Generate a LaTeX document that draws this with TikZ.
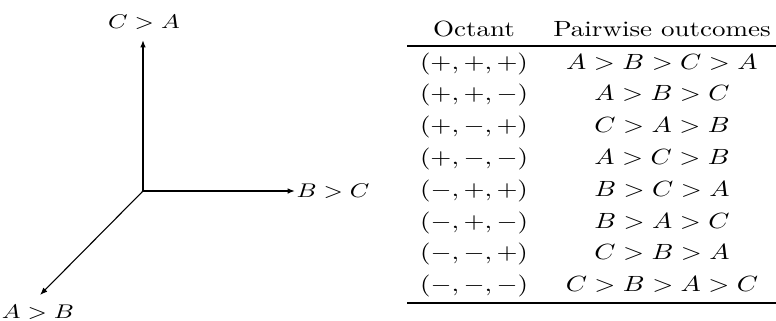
\documentclass[tikz,border=0pt]{standalone}
\usetikzlibrary{arrows.meta}
\newcommand{\wx}[1]{\scalebox{1.227}[1]{#1}}
\begin{document}
\begin{tikzpicture}[x=0.4545pt,y=-0.4545pt,
  cell/.style={inner sep=0pt, anchor=base, font=\fontsize{10}{12}\selectfont},
  axlabel/.style={inner sep=0pt, anchor=base, font=\fontsize{8.6}{10}\selectfont},
  axisline/.style={line width=1.2pt, -{Latex[length=3.4pt,width=2.6pt]}},
  diagline/.style={line width=0.5pt, -{Latex[length=3.4pt,width=2.6pt]}},
  tabrule/.style={line width=1pt}]
\useasboundingbox (0,0) rectangle (776,320);
% axes
\coordinate (O) at (143,191);
\coordinate (tipC) at (143,40);
\coordinate (tipB) at (295,191);
\coordinate (tipA) at (40,295);
\draw[axisline] (O) -- (tipC);
\draw[axisline] (O) -- (tipB);
\draw[diagline] (O) -- (tipA);
\node[axlabel] (ca) at (144,28) {\wx{$C>A$}};
\node[axlabel] (bc) at (333,197) {\wx{$B>C$}};
\node[axlabel] (ab) at (38,318) {\wx{$A>B$}};
% table
\node[cell] (h1) at (474,36) {\wx{Octant}};
\node[cell] (h2) at (662,36) {\wx{Pairwise outcomes}};
\coordinate (tl) at (407,46);
\coordinate (tr) at (776,46);
\coordinate (bl) at (407,303);
\coordinate (br) at (776,303);
\draw[tabrule] (tl) -- (tr);
\draw[tabrule] (bl) -- (br);
\foreach \k/\oc/\po in {
  0/{(+,+,+)}/{A>B>C>A},
  1/{(+,+,-)}/{A>B>C},
  2/{(+,-,+)}/{C>A>B},
  3/{(+,-,-)}/{A>C>B},
  4/{(-,+,+)}/{B>C>A},
  5/{(-,+,-)}/{B>A>C},
  6/{(-,-,+)}/{C>B>A},
  7/{(-,-,-)}/{C>B>A>C}} {
  \node[cell] (oc\k) at (474,69+31.8*\k) {\wx{$\oc$}};
  \node[cell] (po\k) at (662,69+31.8*\k) {\wx{$\po$}};
}
\end{tikzpicture}
\end{document}
